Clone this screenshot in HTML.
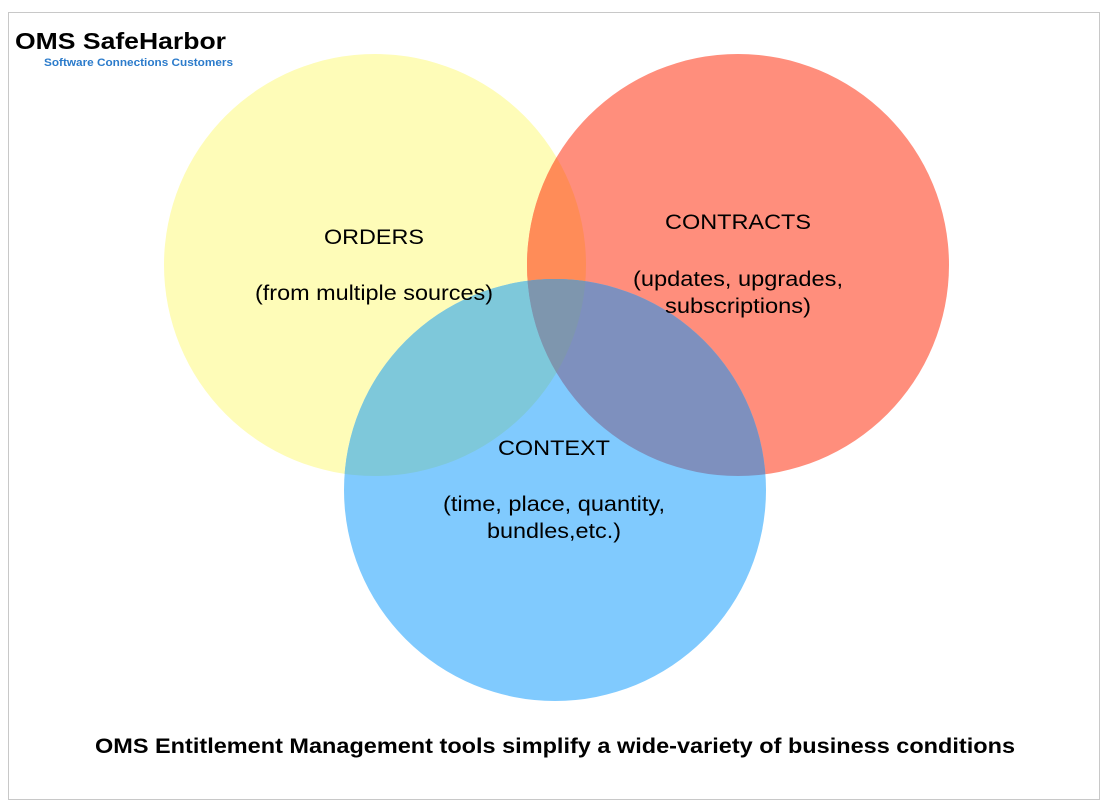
<!DOCTYPE html>
<html><head><style>
body{margin:0;background:#fff;}
svg{display:block;}
</style></head><body>
<svg width="1110" height="812" viewBox="0 0 1110 812" xmlns="http://www.w3.org/2000/svg">
<defs>
<clipPath id="cy"><circle cx="375" cy="265" r="211"/></clipPath>
<clipPath id="cr"><circle cx="738" cy="265" r="211"/></clipPath>
<clipPath id="cb"><circle cx="555" cy="490" r="211"/></clipPath>
</defs>
<rect x="8.5" y="12.5" width="1091" height="787" fill="#fff" stroke="#c8c8c8" stroke-width="1"/>
<circle cx="375" cy="265" r="211" fill="#FEFCB8"/>
<circle cx="738" cy="265" r="211" fill="#FF8E7C"/>
<g clip-path="url(#cy)"><circle cx="738" cy="265" r="211" fill="#FF8C58"/></g>
<circle cx="555" cy="490" r="211" fill="#80CAFE"/>
<g clip-path="url(#cb)">
<circle cx="375" cy="265" r="211" fill="#7EC8DA"/>
<circle cx="738" cy="265" r="211" fill="#7E90BE"/>
<g clip-path="url(#cy)"><circle cx="738" cy="265" r="211" fill="#7E96AE"/></g>
</g>
<g font-family="Liberation Sans, sans-serif">
<text x="15" y="49" font-size="23" font-weight="bold" fill="#000" textLength="211" lengthAdjust="spacingAndGlyphs">OMS SafeHarbor</text>
<text x="44" y="66" font-size="11" font-weight="bold" fill="#2B7BCB" textLength="189" lengthAdjust="spacingAndGlyphs">Software Connections Customers</text>
<g font-size="21" fill="#000" text-anchor="middle" lengthAdjust="spacingAndGlyphs">
<text x="374" y="244" textLength="100" lengthAdjust="spacingAndGlyphs">ORDERS</text>
<text x="374" y="300" textLength="238" lengthAdjust="spacingAndGlyphs">(from multiple sources)</text>
<text x="738" y="229" textLength="146" lengthAdjust="spacingAndGlyphs">CONTRACTS</text>
<text x="738" y="286" textLength="210" lengthAdjust="spacingAndGlyphs">(updates, upgrades,</text>
<text x="738" y="313" textLength="146" lengthAdjust="spacingAndGlyphs">subscriptions)</text>
<text x="554" y="455" textLength="112" lengthAdjust="spacingAndGlyphs">CONTEXT</text>
<text x="554" y="511" textLength="222" lengthAdjust="spacingAndGlyphs">(time, place, quantity,</text>
<text x="554" y="538" textLength="134" lengthAdjust="spacingAndGlyphs">bundles,etc.)</text>
</g>
<text x="555" y="753" font-size="21" font-weight="bold" text-anchor="middle" fill="#000" textLength="920" lengthAdjust="spacingAndGlyphs">OMS Entitlement Management tools simplify a wide-variety of business conditions</text>
</g>
</svg>
</body></html>
